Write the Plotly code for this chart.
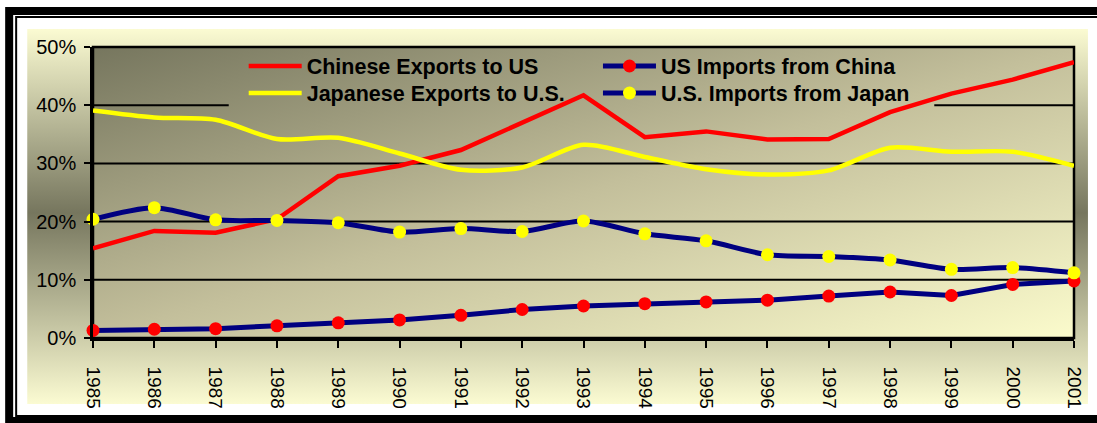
import base64
import plotly.graph_objects as go

# ---- data (values in %) ----
years = [1985, 1986, 1987, 1988, 1989, 1990, 1991, 1992, 1993,
         1994, 1995, 1996, 1997, 1998, 1999, 2000, 2001]
chinese_exports_to_us = [15.4, 18.4, 18.1, 20.4, 27.8, 29.6, 32.3, 37.0, 41.7,
                         34.5, 35.5, 34.1, 34.2, 38.8, 42.0, 44.4, 47.4]
japanese_exports_to_us = [39.1, 37.9, 37.5, 34.2, 34.4, 31.7, 28.9, 29.3, 33.2,
                          31.1, 29.0, 28.1, 28.8, 32.7, 32.0, 32.0, 29.6]
us_imports_from_china = [1.3, 1.5, 1.6, 2.1, 2.6, 3.1, 3.9, 4.9, 5.5,
                         5.9, 6.2, 6.5, 7.2, 7.9, 7.3, 9.2, 9.8]
us_imports_from_japan = [20.4, 22.4, 20.3, 20.2, 19.8, 18.2, 18.8, 18.3, 20.1,
                         17.9, 16.7, 14.3, 14.0, 13.4, 11.8, 12.1, 11.2]
y_tick_values = [0, 10, 20, 30, 40, 50]
y_tick_labels = ["0%", "10%", "20%", "30%", "40%", "50%"]

# ---- layout geometry (pixels) ----
W, H = 1097, 423
L, R, T, B = 93, 1076, 47, 338
PW, PH = R - L, B - T


def px(x):
    return (x - L) / PW


def py(y):
    return (B - y) / PH


def svg_uri(w, h, grad, stops):
    s = "".join(f"<stop offset='{o}' stop-color='{c}'/>" for o, c in stops)
    svg = (f"<svg xmlns='http://www.w3.org/2000/svg' width='{w}' height='{h}' "
           f"viewBox='0 0 {w} {h}' preserveAspectRatio='none'><defs>"
           f"<linearGradient id='g' {grad}>{s}</linearGradient></defs>"
           f"<rect x='0' y='0' width='{w}' height='{h}' fill='url(#g)'/></svg>")
    return "data:image/svg+xml;base64," + base64.b64encode(svg.encode()).decode()


panel_src = svg_uri(1063, 375, "x1='0' y1='0' x2='0' y2='1'",
                    [(0, "#fbfbd2"), (0.49, "#76765e"), (1, "#fbfbd2")])
plot_src = svg_uri(PW, PH, "x1='0' y1='0' x2='1' y2='1'",
                   [(0, "#76765e"), (0.5, "#c3bf9b"), (1, "#fbfbcc")])

FONT = "Liberation Sans, Arial, sans-serif"
NAVY = "#000080"

fig = go.Figure()
fig.add_trace(go.Scatter(x=years, y=chinese_exports_to_us, name="Chinese Exports to US",
                         mode="lines", line=dict(color="#ff0000", width=4.5),
                         cliponaxis=False, legend="legend"))
fig.add_trace(go.Scatter(x=years, y=japanese_exports_to_us, name="Japanese Exports to U.S.",
                         mode="lines", line=dict(color="#ffff00", width=4.5, shape="spline", smoothing=0.8),
                         cliponaxis=False, legend="legend2"))
fig.add_trace(go.Scatter(x=years, y=us_imports_from_china, name="US Imports from China",
                         mode="lines+markers", line=dict(color=NAVY, width=5),
                         marker=dict(color="#ff0000", size=13, line=dict(width=0)),
                         cliponaxis=False, legend="legend3"))
fig.add_trace(go.Scatter(x=years, y=us_imports_from_japan, name="U.S. Imports from Japan",
                         mode="lines+markers", line=dict(color=NAVY, width=5, shape="spline", smoothing=0.8),
                         marker=dict(color="#ffff00", size=13, line=dict(width=0)),
                         cliponaxis=False, legend="legend4"))

shapes = [
    # outer black frame (outline only so the gradient images stay visible)
    dict(type="rect", xref="paper", yref="paper", x0=px(9), x1=px(1130), y0=py(11), y1=py(421),
         line=dict(color="black", width=8), layer="below"),
    dict(type="rect", xref="paper", yref="paper", x0=px(16), x1=px(1130), y0=py(17), y1=py(416),
         line=dict(color="black", width=2), layer="below"),
]
# horizontal gridlines (40% partly hidden behind legend)
for v in [10, 20, 30]:
    shapes.append(dict(type="line", xref="paper", yref="y", x0=0, x1=1, y0=v, y1=v,
                       line=dict(color="black", width=2), layer="below"))
shapes.append(dict(type="line", xref="paper", yref="y", x0=0, x1=px(229), y0=40, y1=40,
                   line=dict(color="black", width=2), layer="below"))
shapes.append(dict(type="line", xref="paper", yref="y", x0=px(936), x1=1, y0=40, y1=40,
                   line=dict(color="black", width=2), layer="below"))
# plot border (top/right)
shapes.append(dict(type="rect", xref="paper", yref="paper", x0=0, x1=1, y0=0, y1=1,
                   line=dict(color="black", width=2.5), layer="below"))

images = [
    dict(source=panel_src, xref="paper", yref="paper", x=px(27), y=py(29),
         sizex=px(1090) - px(27), sizey=py(29) - py(404), xanchor="left", yanchor="top",
         sizing="stretch", layer="below"),
    dict(source=plot_src, xref="paper", yref="paper", x=0, y=1, sizex=1, sizey=1,
         xanchor="left", yanchor="top", sizing="stretch", layer="below"),
]

legend_common = dict(bgcolor="rgba(0,0,0,0)", borderwidth=0, itemwidth=53,
                     font=dict(family=FONT, size=21.5, color="black", weight="bold"),
                     xanchor="left", yanchor="middle", orientation="v")

fig.update_layout(
    width=W, height=H,
    margin=dict(l=L, r=W - R, t=T, b=H - B, pad=0),
    paper_bgcolor="white", plot_bgcolor="rgba(0,0,0,0)",
    showlegend=True,
    legend=dict(x=px(244), y=py(66), **legend_common),
    legend2=dict(x=px(244), y=py(93), **legend_common),
    legend3=dict(x=px(599), y=py(66), **legend_common),
    legend4=dict(x=px(599), y=py(93), **legend_common),
    shapes=shapes, images=images,
    font=dict(family=FONT, color="black"),
    xaxis=dict(range=[1985, 2001], tickmode="array", tickvals=years,
               ticktext=[str(y) for y in years], tickangle=90,
               ticks="outside", ticklen=7, tickwidth=2, tickcolor="black",
               showline=True, linecolor="black", linewidth=2.5, showgrid=False, zeroline=False,
               ticklabelstandoff=15,
               tickfont=dict(family=FONT, size=19, color="black")),
    yaxis=dict(range=[0, 50], tickmode="array", tickvals=y_tick_values, ticktext=y_tick_labels,
               ticks="outside", ticklen=6, tickwidth=2, tickcolor="black",
               showline=True, linecolor="black", linewidth=2.5, showgrid=False, zeroline=False,
               ticklabelstandoff=4,
               tickfont=dict(family=FONT, size=20, color="black")),
)

fig.write_html("out.html")
